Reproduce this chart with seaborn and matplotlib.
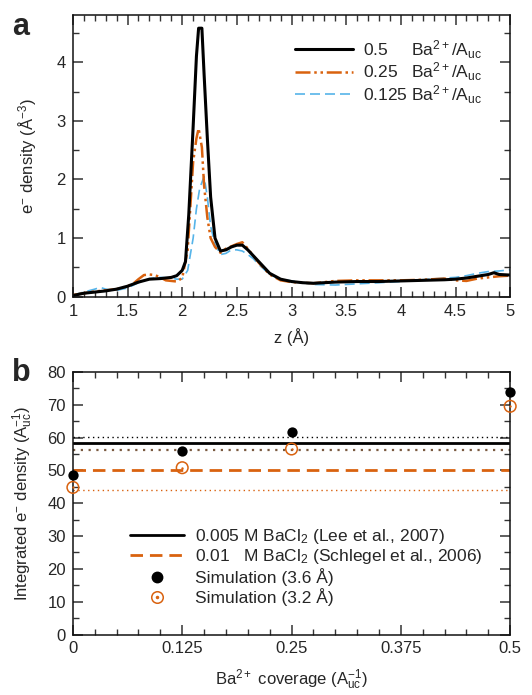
import numpy as np
import pandas as pd
import seaborn as sns
import matplotlib.pyplot as plt
from matplotlib.ticker import MultipleLocator, FixedLocator
from matplotlib.lines import Line2D
from matplotlib.legend_handler import HandlerTuple

# ---------------- data: panel a ----------------
z_05 = [1.0, 1.1, 1.2, 1.3, 1.4, 1.5, 1.6, 1.7, 1.8, 1.9, 1.95, 2.0, 2.03, 2.06, 2.1, 2.13, 2.15, 2.18,
        2.2, 2.23, 2.26, 2.3, 2.35, 2.4, 2.45, 2.5, 2.55, 2.6, 2.65, 2.7, 2.8, 2.9, 3.0, 3.1, 3.2,
        3.4, 3.6, 3.8, 4.0, 4.2, 4.4, 4.5, 4.6, 4.7, 4.8, 4.85, 4.9, 5.0]
d_05 = [0.02, 0.06, 0.08, 0.10, 0.13, 0.18, 0.25, 0.30, 0.31, 0.33, 0.36, 0.45, 0.60, 1.40, 2.90, 4.10, 4.58, 4.58,
        3.80, 2.70, 1.70, 1.00, 0.78, 0.80, 0.85, 0.88, 0.88, 0.80, 0.70, 0.60, 0.40, 0.30, 0.26, 0.24, 0.23,
        0.25, 0.26, 0.26, 0.27, 0.28, 0.29, 0.30, 0.32, 0.35, 0.38, 0.41, 0.38, 0.37]

z_025 = [1.0, 1.1, 1.2, 1.3, 1.4, 1.5, 1.55, 1.6, 1.65, 1.7, 1.75, 1.8, 1.85, 1.9, 1.95, 2.0, 2.05, 2.08, 2.1,
         2.13, 2.15, 2.18, 2.2, 2.23, 2.26, 2.3, 2.35, 2.4, 2.45, 2.5, 2.55, 2.6, 2.65, 2.7, 2.8, 2.9,
         3.0, 3.1, 3.2, 3.4, 3.6, 3.8, 4.0, 4.2, 4.4, 4.5, 4.6, 4.7, 4.8, 4.9, 5.0]
d_025 = [0.03, 0.06, 0.09, 0.11, 0.13, 0.18, 0.22, 0.30, 0.37, 0.38, 0.37, 0.33, 0.28, 0.27, 0.26, 0.32, 0.80, 1.70, 2.30,
         2.70, 2.87, 2.55, 1.90, 1.35, 1.00, 0.85, 0.75, 0.82, 0.86, 0.90, 0.93, 0.82, 0.70, 0.58, 0.38, 0.28,
         0.25, 0.24, 0.23, 0.27, 0.28, 0.28, 0.28, 0.29, 0.31, 0.28, 0.27, 0.31, 0.33, 0.35, 0.36]

z_0125 = [1.0, 1.1, 1.2, 1.25, 1.3, 1.4, 1.5, 1.6, 1.7, 1.8, 1.9, 1.95, 2.0, 2.05, 2.1, 2.13, 2.16, 2.2,
          2.23, 2.26, 2.3, 2.35, 2.4, 2.45, 2.5, 2.55, 2.6, 2.65, 2.7, 2.8, 2.9, 3.0, 3.1, 3.2, 3.4,
          3.6, 3.8, 4.0, 4.2, 4.4, 4.5, 4.6, 4.7, 4.8, 4.9, 5.0]
d_0125 = [0.03, 0.08, 0.13, 0.16, 0.13, 0.11, 0.15, 0.24, 0.31, 0.33, 0.32, 0.30, 0.30, 0.45, 1.00, 1.50, 1.85, 2.05,
          1.70, 1.20, 0.90, 0.72, 0.74, 0.80, 0.80, 0.78, 0.72, 0.65, 0.55, 0.38, 0.30, 0.27, 0.24, 0.21, 0.20,
          0.22, 0.24, 0.26, 0.29, 0.32, 0.33, 0.36, 0.40, 0.43, 0.44, 0.46]

# ---------------- data: panel b ----------------
coverage = [0.0, 0.125, 0.25, 0.5]
sim_36 = [48.5, 55.8, 61.8, 74.0]
sim_32 = [44.8, 50.8, 56.5, 69.5]
lee_value, lee_err = 58.3, 2.0
schlegel_value, schlegel_err = 50.0, 6.0

xt_a = [1, 1.5, 2, 2.5, 3, 3.5, 4, 4.5, 5]
yt_a = [0, 1, 2, 3, 4]
xt_b = [0, 0.125, 0.25, 0.375, 0.5]
yt_b = [0, 10, 20, 30, 40, 50, 60, 70, 80]

BLACK = "#000000"
ORANGE = "#d9620f"
BLUE = "#56b4e9"

sns.set_style("ticks")
plt.rcParams["font.family"] = ["Liberation Sans", "DejaVu Sans"]
plt.rcParams["mathtext.fontset"] = "custom"
plt.rcParams["mathtext.rm"] = "Liberation Sans"
plt.rcParams["mathtext.it"] = "Liberation Sans:italic"
plt.rcParams["mathtext.bf"] = "Liberation Sans:bold"
plt.rcParams["font.size"] = 12
plt.rcParams["axes.linewidth"] = 1.1
plt.rcParams["xtick.direction"] = "in"
plt.rcParams["ytick.direction"] = "in"

fig = plt.figure(figsize=(5.32, 6.95), dpi=100)
axa = fig.add_axes([0.137, 0.573, 0.822, 0.405])
axb = fig.add_axes([0.137, 0.087, 0.822, 0.378])

def style_ticks(ax):
    ax.minorticks_on()
    ax.tick_params(which="both", direction="in", top=True, right=True, bottom=True, left=True,
                   labelsize=12, color="#333333", pad=5)
    ax.tick_params(which="major", length=7, width=1.1)
    ax.tick_params(which="minor", length=4, width=1.0)
    for s in ax.spines.values():
        s.set_color("#111111")
        s.set_visible(True)

# ---- panel a ----
dfa = pd.concat([
    pd.DataFrame({"z": z_05, "d": d_05, "s": "0.5"}),
    pd.DataFrame({"z": z_025, "d": d_025, "s": "0.25"}),
    pd.DataFrame({"z": z_0125, "d": d_0125, "s": "0.125"}),
])
sns.lineplot(data=dfa[dfa.s == "0.125"], x="z", y="d", ax=axa, color=BLUE, lw=1.2,
             linestyle=(0, (6, 3)), label="0.125 Ba$^{2+}$/A$_{\\mathrm{uc}}$", legend=False)
sns.lineplot(data=dfa[dfa.s == "0.25"], x="z", y="d", ax=axa, color=ORANGE, lw=1.8,
             linestyle=(0, (6, 1.5, 1, 1.5, 1, 1.5)), label="0.25   Ba$^{2+}$/A$_{\\mathrm{uc}}$", legend=False)
sns.lineplot(data=dfa[dfa.s == "0.5"], x="z", y="d", ax=axa, color=BLACK, lw=2.2,
             label="0.5     Ba$^{2+}$/A$_{\\mathrm{uc}}$", legend=False)
axa.set_xlim(1, 5)
axa.set_ylim(0, 4.8)
axa.xaxis.set_major_locator(FixedLocator(xt_a))
axa.yaxis.set_major_locator(FixedLocator(yt_a))
axa.set_xticklabels([f"{v:g}" for v in xt_a])
axa.set_yticklabels([f"{v:g}" for v in yt_a])
axa.set_xlabel("z (Å)", fontsize=12, labelpad=7)
axa.set_ylabel("e$^{-}$ density (Å$^{-3}$)", fontsize=12, labelpad=13)
style_ticks(axa)
axa.xaxis.set_minor_locator(MultipleLocator(0.1))
axa.yaxis.set_minor_locator(MultipleLocator(0.5))
h, l = axa.get_legend_handles_labels()
axa.legend(h[::-1], l[::-1], loc="upper right", bbox_to_anchor=(0.972, 0.975), frameon=False,
           handlelength=3.3, handletextpad=0.6, labelspacing=0.0, fontsize=12.5)
fig.text(0.022, 0.983, "a", fontsize=22, fontweight="bold", va="top", ha="left")

# ---- panel b ----
axb.axhline(lee_value + lee_err, color=BLACK, lw=1.0, ls=(0, (1, 2.5)))
axb.axhline(lee_value - lee_err, color="#7a5a40", lw=1.6, ls=(0, (1, 2.5)))
axb.axhline(schlegel_value - schlegel_err, color=ORANGE, lw=1.0, ls=(0, (1, 2.5)))
l1 = axb.axhline(lee_value, color=BLACK, lw=2.0)
l2 = axb.axhline(schlegel_value, color=ORANGE, lw=2.0, ls=(0, (4.5, 2.5)))
dfb = pd.DataFrame({"cov": coverage, "s36": sim_36, "s32": sim_32})
sns.scatterplot(data=dfb, x="cov", y="s36", ax=axb, color=BLACK, s=55, edgecolor=BLACK, linewidth=0,
                clip_on=False, zorder=5, legend=False)
sns.scatterplot(data=dfb, x="cov", y="s32", ax=axb, facecolor="none", edgecolor=ORANGE, s=70, linewidth=1.1,
                clip_on=False, zorder=5, legend=False)
sns.scatterplot(data=dfb, x="cov", y="s32", ax=axb, color=ORANGE, s=3, linewidth=0,
                clip_on=False, zorder=6, legend=False)
axb.set_xlim(0, 0.5)
axb.set_ylim(0, 80)
axb.xaxis.set_major_locator(FixedLocator(xt_b))
axb.yaxis.set_major_locator(FixedLocator(yt_b))
axb.set_xticklabels([f"{v:g}" for v in xt_b])
axb.set_yticklabels([f"{v:g}" for v in yt_b])
axb.set_xlabel("Ba$^{2+}$ coverage (A$_{\\mathrm{uc}}^{-1}$)", fontsize=12, labelpad=8)
axb.set_ylabel("Integrated e$^{-}$ density (A$_{\\mathrm{uc}}^{-1}$)", fontsize=12, labelpad=9)
style_ticks(axb)
axb.xaxis.set_minor_locator(MultipleLocator(0.025))
axb.yaxis.set_minor_locator(MultipleLocator(5))
m1 = Line2D([], [], ls="none", marker="o", color=BLACK, markersize=7.5)
m2o = Line2D([], [], ls="none", marker="o", markerfacecolor="none", markeredgecolor=ORANGE, markersize=8.3,
             markeredgewidth=1.1)
m2d = Line2D([], [], ls="none", marker="o", color=ORANGE, markersize=1.5)
axb.legend([l1, l2, m1, (m2o, m2d)],
           ["0.005 M BaCl$_2$ (Lee et al., 2007)",
            "0.01   M BaCl$_2$ (Schlegel et al., 2006)",
            "Simulation (3.6 Å)", "Simulation (3.2 Å)"],
           handler_map={tuple: HandlerTuple(ndivide=1, pad=0)},
           loc="lower left", bbox_to_anchor=(0.095, 0.05), frameon=False,
           handlelength=3.1, handletextpad=0.65, labelspacing=0.1, fontsize=12.5)
fig.text(0.022, 0.485, "b", fontsize=22, fontweight="bold", va="top", ha="left")

fig.savefig("out.png", dpi=100)
